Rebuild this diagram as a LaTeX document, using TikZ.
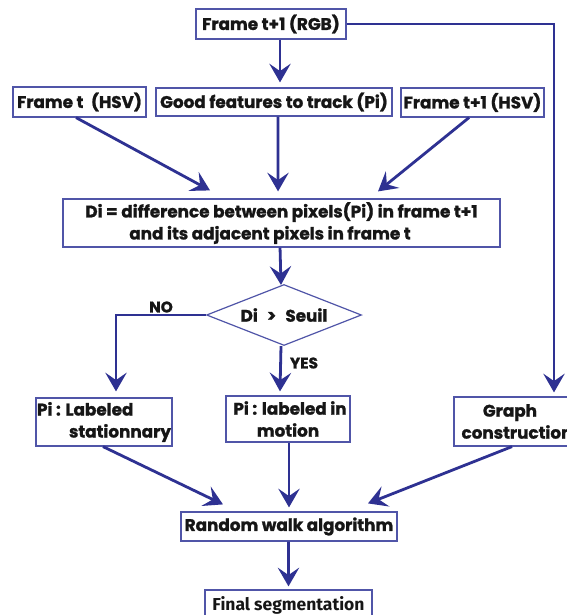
\documentclass[tikz,border=0pt]{standalone}
\usepackage{fontspec}
\setmainfont{Poppins}[BoldFeatures={FakeBold=1.2}]
\newfontfamily\condfont{Fira Sans}
\usetikzlibrary{arrows.meta,shapes.geometric}
\definecolor{ln}{HTML}{2E3192}
\definecolor{bx}{HTML}{5055A8}
\definecolor{tx}{HTML}{161616}
\newcommand\pxu{0.75pt}
\begin{document}
\begin{tikzpicture}[x=0.75pt,y=-0.75pt,
  box/.style={draw=bx,line width=0.9pt,inner sep=0pt,text=tx,fill=white,
    font=\bfseries\fontsize{12.6}{16.5}\selectfont},
  conn/.style={draw=ln,line width=2.1pt,-{Stealth[length=14pt,width=16pt,inset=5.5pt]}},
  lbl/.style={text=tx,inner sep=0pt,font=\bfseries\fontsize{11.5}{13}\selectfont}]
\useasboundingbox (0,0) rectangle (567,615);
\clip (0,0) rectangle (567,615);
\fill[white] (0,0) rectangle (567,615);

% boxes
\node[box,minimum width=150*\pxu,minimum height=30*\pxu] (rgb) at (271,24) {Frame t+1 (RGB)};
\node[box,minimum width=133*\pxu,minimum height=30*\pxu] (ft) at (79.5,102) {Frame t\hspace{0.45em}(HSV)};
\node[box,minimum width=236*\pxu,minimum height=28*\pxu] (gf) at (274,102) {Good features to track (Pi)};
\node[box,minimum width=143*\pxu,minimum height=29*\pxu] (f1) at (472.5,102.5) {Frame t+1 (HSV)};
\node[box,minimum width=437*\pxu,minimum height=48*\pxu,align=left] (di) at (281.5,223)
  {Di = difference between pixels(Pi) in frame t+1\\\hspace*{33pt}and its adjacent pixels in frame t};
\node[box,shape=diamond,aspect=2.5,minimum width=155*\pxu,minimum height=61*\pxu] (dec) at (284,315)
  {Di\hspace{0.55em}>\hspace{0.55em}Seuil};
\node[box,minimum width=136*\pxu,minimum height=48*\pxu,align=left] (st) at (104,422)
  {Pi : Labeled\\\hspace*{24pt}stationnary};
\node[box,minimum width=124*\pxu,minimum height=46*\pxu,align=center] (mo) at (288,419)
  {\hspace*{3pt}Pi : labeled in\\motion};
\node[box,minimum width=126*\pxu,minimum height=49*\pxu,align=left] (gc) at (517,421.5)
  {\hspace*{16pt}Graph\\construction};
\node[box,minimum width=216*\pxu,minimum height=29*\pxu] (rw) at (289,526.5) {Random walk algorithm};
\node[box,minimum width=167*\pxu,minimum height=30*\pxu] (fs) at (288.5,605)
  {\condfont\bfseries\resizebox{114pt}{10.5pt}{Final segmentation}};

% labels
\node[lbl] (no) at (161,307) {NO};
\node[lbl] (yes) at (304,363) {YES};

% connectors
\draw[conn] ([xshift=6.75pt]rgb.south) -- ([xshift=4.5pt,yshift=3.75pt]gf.north);
\draw[conn] (rgb.east) -| ([xshift=27.75pt,yshift=3pt]gc.north);
\draw[conn] ([xshift=-2.6pt]ft.south) -- ([xshift=-53.6pt,yshift=6pt]di.north);
\draw[conn] ([xshift=3pt]gf.south) -- ([xshift=-2.6pt,yshift=5.25pt]di.north);
\draw[conn] ([xshift=-2.6pt]f1.south) -- ([xshift=72.4pt,yshift=5.25pt]di.north);
\draw[conn] ([xshift=-1.1pt]di.south) -- ([xshift=-2.25pt,yshift=-0.75pt]dec.north);
\draw[conn] (dec.west) -| ([xshift=9pt,yshift=4.5pt]st.north);
\draw[conn] ([xshift=-2.25pt]dec.south) -- ([xshift=-6pt,yshift=3pt]mo.north);
\draw[conn] ([xshift=-0.75pt]st.south) -- ([xshift=-49.5pt,yshift=5.25pt]rw.north);
\draw[conn] ([xshift=0.75pt]mo.south) -- ([yshift=3pt]rw.north);
\draw[conn] ([xshift=-3.75pt]gc.south) -- ([xshift=59.25pt,yshift=6pt]rw.north);
\draw[conn] ([xshift=-0.4pt]rw.south) -- ([yshift=2.25pt]fs.north);
\end{tikzpicture}
\end{document}
